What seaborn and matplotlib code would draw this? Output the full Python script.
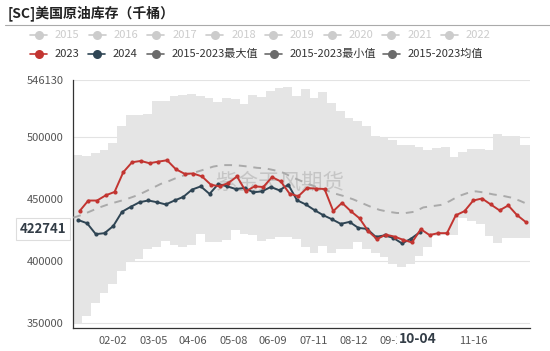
import numpy as np
import pandas as pd
import matplotlib
matplotlib.use("Agg")
import matplotlib.pyplot as plt
from matplotlib.lines import Line2D
import seaborn as sns

# --- DATA ---
TITLE = "[SC]美国原油库存（千桶）"
WATERMARK = "紫金天风期货"

# x axis: every day of a leap year, labelled MM-DD
day_labels = pd.date_range("2024-01-01", "2024-12-31", freq="D").strftime("%m-%d").tolist()
tick_days = [32, 64, 96, 128, 160, 192, 224, 256, 288, 320]
hidden_tick_days = [288]
pointer_day_label = "10-04"
pointer_value = 422741

# weekly band of 2015-2023 (max / min), one value per week starting 01-01
band_max = [485750, 484500, 487000, 489000, 495000, 508600, 518000, 518000, 518800, 528800,
            528800, 533000, 534000, 534700, 532800, 531200, 528000, 531700, 530700, 526700,
            533900, 532000, 537400, 539200, 540000, 532800, 538600, 531200, 536000, 527500,
            521000, 515300, 512600, 508600, 500500, 498700, 497300, 493400, 493400, 492000,
            489400, 490700, 492000, 484000, 488000, 489900, 489900, 489400, 502700, 500600,
            500600, 493400]
band_min = [350000, 355400, 366100, 374200, 380900, 391700, 399700, 401100, 409200, 411000,
            415900, 413000, 410700, 412800, 421900, 414700, 414700, 416600, 424600, 421400,
            420600, 416000, 417400, 419200, 419200, 417400, 411000, 406000, 411500, 406000,
            409400, 409400, 414700, 409400, 405900, 402700, 397400, 395200, 397400, 404000,
            410700, 420000, 421000, 421000, 434700, 432000, 430000, 419900, 414500, 418600,
            418600, 418600]
# 2015-2023 mean, weekly from 01-01
band_mean = [434700, 437000, 440000, 443000, 445500, 447500, 449500, 452000, 455000, 458500,
             462000, 464500, 467500, 469600, 471500, 473700, 476000, 477200, 477200, 476800,
             476000, 475000, 474500, 473000, 471000, 467500, 464500, 461500, 459000, 456500,
             454000, 452000, 449500, 446500, 443500, 441000, 439500, 438500, 438500, 439500,
             443000, 444000, 445000, 448000, 452000, 454500, 456000, 455000, 453500, 452500,
             451000, 448500, 445400]

# 2023 weekly stocks, first report on 01-06
start_2023 = 5
stocks_2023 = [440000, 448560, 448560, 452800, 455500, 471500, 479500, 480560, 478700, 480000,
               481100, 473900, 470200, 470400, 468000, 461400, 460000, 462700, 468000, 456000,
               460000, 459500, 467500, 464000, 454200, 452000, 458700, 458200, 457900, 440000,
               446700, 440000, 434200, 423800, 417400, 421000, 419400, 416800, 414700, 425400,
               420700, 422200, 422200, 436600, 440000, 448600, 450200, 445400, 440600, 444600,
               436800, 431200]
# 2024 weekly stocks, first report on 01-05
start_2024 = 4
stocks_2024 = [432800, 430200, 421400, 422200, 428000, 439500, 443500, 447200, 448600, 447200,
               445400, 448600, 451500, 457400, 460000, 453900, 461900, 460000, 457900, 458700,
               455200, 456000, 459500, 456800, 461400, 448800, 445400, 440800, 436700, 433400,
               429700, 431300, 426500, 425600, 419200, 420400, 418400, 413900, 417600, 422741]

y_ticks = [350000, 400000, 450000, 500000, 546130]
y_min, y_max = 345800, 546130

legend_row1 = ["2015", "2016", "2017", "2018", "2019", "2020", "2021", "2022"]
legend_row2 = ["2023", "2024", "2015-2023最大值", "2015-2023最小值", "2015-2023均值"]

# --- STYLE ---
RED = "#c23531"
NAVY = "#2f4554"
BAND = "#e5e5e5"
MEAN = "#aaaaaa"
FADED = "#cccccc"
MARK = "#6b6b6b"

sns.set_style("white")
plt.rcParams["font.family"] = ["Noto Sans CJK SC", "DejaVu Sans"]

W, H = 550, 351
fig = plt.figure(figsize=(W / 100, H / 100), dpi=100)
ax_left, ax_right, ax_top, ax_bottom = 73.3, 529.5, 79.8, 327.7
ax = fig.add_axes([ax_left / W, 1 - ax_bottom / H, (ax_right - ax_left) / W, (ax_bottom - ax_top) / H])

# band (weekly steps)
week_days = np.arange(len(band_max)) * 7
band_x = np.append(week_days, len(day_labels) - 1)
ax.fill_between(band_x, band_min + band_min[-1:], band_max + band_max[-1:],
                step="post", color=BAND, linewidth=0, zorder=1)

# watermark
ax.text(0.453, 0.584, WATERMARK, transform=ax.transAxes, fontsize=15.5,
        color="#b5b5b5", alpha=0.65, ha="center", va="center", zorder=2)

mean_df = pd.DataFrame({"day": np.arange(len(band_mean)) * 7, "value": band_mean})
sns.lineplot(data=mean_df, x="day", y="value", color=MEAN, linewidth=1.4,
             linestyle=(0, (4, 3.5)), ax=ax, zorder=3)

df23 = pd.DataFrame({"day": start_2023 + np.arange(len(stocks_2023)) * 7, "value": stocks_2023})
df24 = pd.DataFrame({"day": start_2024 + np.arange(len(stocks_2024)) * 7, "value": stocks_2024})
sns.lineplot(data=df23, x="day", y="value", color=RED, linewidth=1.4, marker="o",
             markersize=3, markeredgewidth=0, ax=ax, zorder=5)
sns.lineplot(data=df24, x="day", y="value", color=NAVY, linewidth=1.4, marker="o",
             markersize=3, markeredgewidth=0, ax=ax, zorder=4)

# axes
ax.set_xlim(0, len(day_labels) - 1)
ax.set_ylim(y_min, y_max)
ax.set_xticks(tick_days)
ax.set_xticklabels(["" if d in hidden_tick_days else day_labels[d] for d in tick_days])
ax.set_yticks(y_ticks)
ax.set_yticklabels([str(v) for v in y_ticks])
ax.set_xlabel("")
ax.set_ylabel("")
ax.tick_params(axis="both", labelsize=8, colors="#555555", length=4, width=0.8, direction="out")
ax.tick_params(axis="x", pad=2)
ax.tick_params(axis="y", pad=3)
for t in ax.get_xticklines() + ax.get_yticklines():
    t.set_color("#333333")
ax.grid(axis="y", color="#e3e3e3", linewidth=0.8)
ax.set_axisbelow(True)
for s in ["top", "right"]:
    ax.spines[s].set_visible(False)
for s in ["left", "bottom"]:
    ax.spines[s].set_color("#333333")
    ax.spines[s].set_linewidth(0.9)

# axis pointer labels (the day label covers part of the 09-13 tick, as in the original)
fig.text(418 / W, 1 - 339 / H, pointer_day_label, fontsize=10, fontweight="bold", color="#333d47",
         ha="center", va="center",
         bbox=dict(boxstyle="square,pad=0.15", facecolor="white", edgecolor="none"))
fig.text(43 / W, 1 - 229 / H, str(pointer_value), fontsize=9.5, fontweight="bold", color="#333d47",
         ha="center", va="center",
         bbox=dict(boxstyle="square,pad=0.3", facecolor="white", edgecolor="#dddddd", linewidth=0.8))

# title and rule
fig.text(8 / W, 1 - 13 / H, TITLE, fontsize=10, fontweight="bold", color="#222222",
         ha="left", va="center")
fig.add_artist(Line2D([5 / W, 1], [1 - 25 / H, 1 - 25 / H], color="#aaaaaa", linewidth=0.8))

# legend, drawn by hand in two rows
def legend_item(x0, y0, label, line_color, marker_color, text_color):
    yf = 1 - y0 / H
    fig.add_artist(Line2D([x0 / W, (x0 + 17) / W], [yf, yf], color=line_color, linewidth=1.2))
    fig.add_artist(Line2D([(x0 + 8.5) / W], [yf], marker="o", markersize=6.5,
                          color=marker_color, markeredgewidth=0))
    fig.text((x0 + 25) / W, yf, label, fontsize=8, color=text_color, ha="left", va="center")

for i, lab in enumerate(legend_row1):
    legend_item(30 + i * 58.7, 35, lab, FADED, FADED, FADED)

row2_x = [30, 88, 147, 265, 383]
row2_colors = [RED, NAVY, MARK, MARK, MARK]
for x0, lab, c in zip(row2_x, legend_row2, row2_colors):
    legend_item(x0, 54, lab, c, c, "#333333")

fig.savefig("out.png", dpi=100)
